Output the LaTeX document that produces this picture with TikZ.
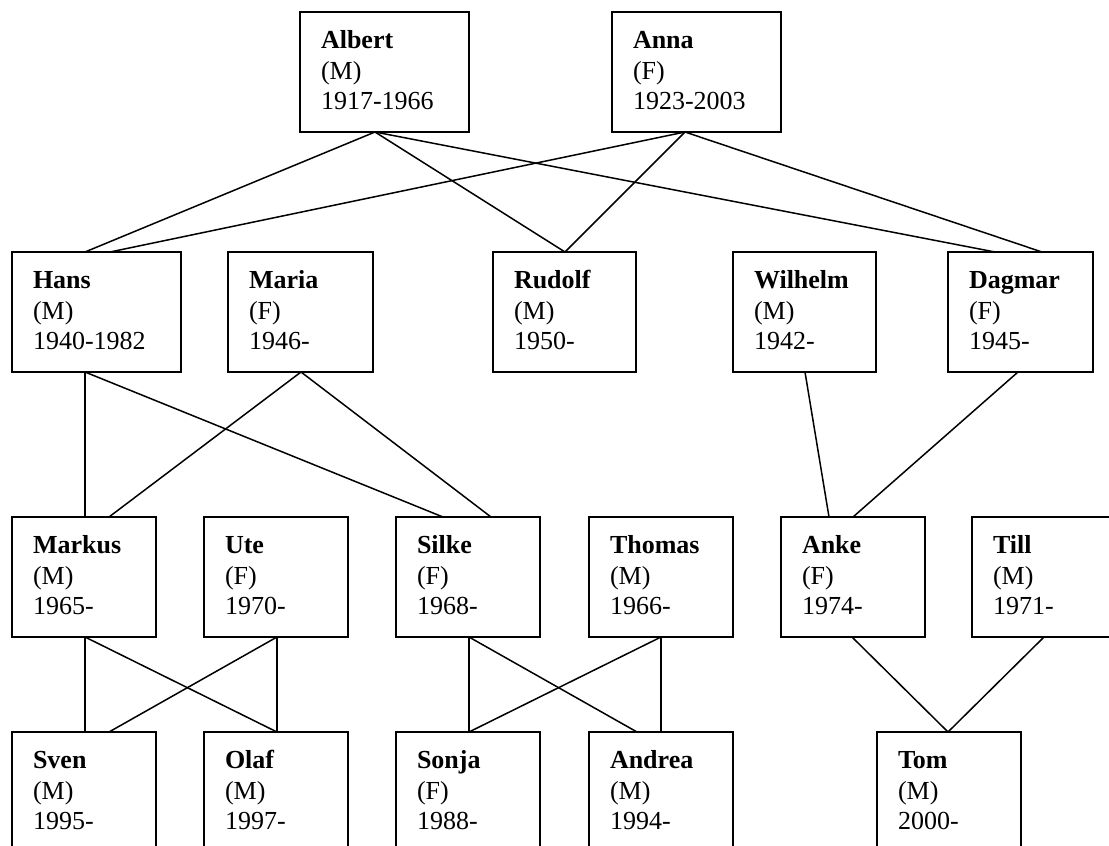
\documentclass[tikz,border=0pt]{standalone}
\usepackage{fontspec}
\setmainfont{Liberation Serif}
\usetikzlibrary{calc}
\tikzset{
  pbox/.style={draw=black, line width=1.9pt, rectangle, minimum height=120pt, inner sep=0pt, outer sep=0pt, anchor=north west},
  plabel/.style={anchor=base west, inner sep=0pt, outer sep=0pt, font=\fontsize{26}{30}\selectfont},
  link/.style={draw=black, line width=1.5pt}
}
\newcommand{\fperson}[7]{%
  \node[pbox, minimum width=#4pt] (#1) at (#2,#3) {};
  \node[plabel] (#1-n) at ([xshift=21pt,yshift=-36.5pt]#1.north west) {\textbf{#5}};
  \node[plabel] (#1-s) at ([xshift=21pt,yshift=-67pt]#1.north west) {(#6)};
  \node[plabel] (#1-y) at ([xshift=21pt,yshift=-97.5pt]#1.north west) {#7};
}
\begin{document}
\begin{tikzpicture}[x=1pt, y=-1pt]
\useasboundingbox (0,0) rectangle (1109,846);
\clip (0,0) rectangle (1109,846);
% row 1
\fperson{albert}{300}{12}{169}{Albert}{M}{1917-1966}
\fperson{anna}{612}{12}{169}{Anna}{F}{1923-2003}
% row 2
\fperson{hans}{12}{252}{169}{Hans}{M}{1940-1982}
\fperson{maria}{228}{252}{145}{Maria}{F}{1946-}
\fperson{rudolf}{493}{252}{143}{Rudolf}{M}{1950-}
\fperson{wilhelm}{733}{252}{143}{Wilhelm}{M}{1942-}
\fperson{dagmar}{948}{252}{145}{Dagmar}{F}{1945-}
% row 3
\fperson{markus}{12}{517}{144}{Markus}{M}{1965-}
\fperson{ute}{204}{517}{144}{Ute}{F}{1970-}
\fperson{silke}{396}{517}{144}{Silke}{F}{1968-}
\fperson{thomas}{589}{517}{144}{Thomas}{M}{1966-}
\fperson{anke}{781}{517}{144}{Anke}{F}{1974-}
\fperson{till}{972}{517}{144}{Till}{M}{1971-}
% row 4
\fperson{sven}{12}{732}{144}{Sven}{M}{1995-}
\fperson{olaf}{204}{732}{144}{Olaf}{M}{1997-}
\fperson{sonja}{396}{732}{144}{Sonja}{F}{1988-}
\fperson{andrea}{589}{732}{144}{Andrea}{M}{1994-}
\fperson{tom}{877}{732}{144}{Tom}{M}{2000-}
% connectors: row 1 -> row 2
\draw[link] ([xshift=75pt]albert.south west) -- ([xshift=73pt]hans.north west);
\draw[link] ([xshift=75pt]albert.south west) -- ([xshift=72pt]rudolf.north west);
\draw[link] ([xshift=75pt]albert.south west) -- ([xshift=47pt]dagmar.north west);
\draw[link] ([xshift=73pt]anna.south west) -- ([xshift=98pt]hans.north west);
\draw[link] ([xshift=73pt]anna.south west) -- ([xshift=72pt]rudolf.north west);
\draw[link] ([xshift=73pt]anna.south west) -- ([xshift=94pt]dagmar.north west);
% row 2 -> row 3
\draw[link] ([xshift=73pt]hans.south west) -- ([xshift=73pt]markus.north west);
\draw[link] ([xshift=73pt]hans.south west) -- ([xshift=47pt]silke.north west);
\draw[link] ([xshift=73pt]maria.south west) -- ([xshift=97pt]markus.north west);
\draw[link] ([xshift=73pt]maria.south west) -- ([xshift=95pt]silke.north west);
\draw[link] ([xshift=72pt]wilhelm.south west) -- ([xshift=48pt]anke.north west);
\draw[link] ([xshift=70pt]dagmar.south west) -- ([xshift=72pt]anke.north west);
% row 3 -> row 4
\draw[link] ([xshift=73pt]markus.south west) -- ([xshift=73pt]sven.north west);
\draw[link] ([xshift=73pt]markus.south west) -- ([xshift=73pt]olaf.north west);
\draw[link] ([xshift=73pt]ute.south west) -- ([xshift=97pt]sven.north west);
\draw[link] ([xshift=73pt]ute.south west) -- ([xshift=73pt]olaf.north west);
\draw[link] ([xshift=73pt]silke.south west) -- ([xshift=73pt]sonja.north west);
\draw[link] ([xshift=73pt]silke.south west) -- ([xshift=48pt]andrea.north west);
\draw[link] ([xshift=72pt]thomas.south west) -- ([xshift=73pt]sonja.north west);
\draw[link] ([xshift=72pt]thomas.south west) -- ([xshift=72pt]andrea.north west);
\draw[link] ([xshift=71pt]anke.south west) -- ([xshift=71pt]tom.north west);
\draw[link] ([xshift=72pt]till.south west) -- ([xshift=71pt]tom.north west);
\end{tikzpicture}
\end{document}
